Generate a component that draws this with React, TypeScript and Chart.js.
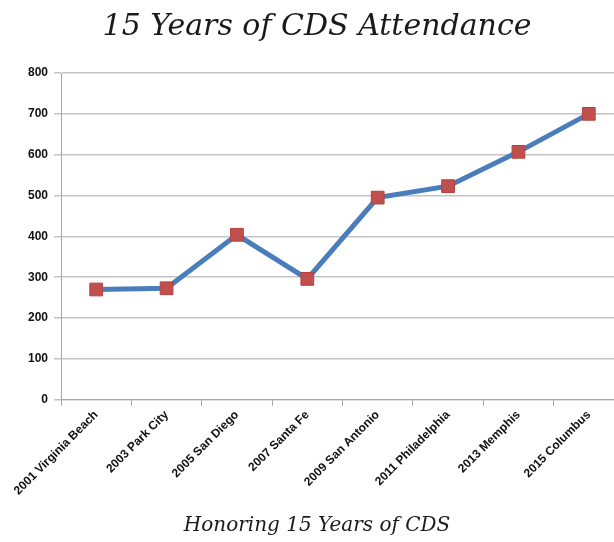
import React, { useEffect, useRef } from "react";
import { Chart, registerables } from "chart.js";

Chart.register(...registerables);

const categories = [
  "2001 Virginia Beach",
  "2003 Park City",
  "2005 San Diego",
  "2007 Santa Fe",
  "2009 San Antonio",
  "2011 Philadelphia",
  "2013 Memphis",
  "2015 Columbus",
];
const attendance = [270, 273, 404, 296, 495, 523, 607, 700];
const yTicks = [0, 100, 200, 300, 400, 500, 600, 700, 800];
const titleText = "15 Years of CDS Attendance";
const subtitleText = "Honoring 15 Years of CDS";

export default function App() {
  const ref = useRef<HTMLCanvasElement>(null);
  useEffect(() => {
    if (!ref.current) return;
    const chart = new Chart(ref.current, {
      type: "line",
      data: {
        labels: categories,
        datasets: [
          {
            data: attendance,
            borderColor: "#4A7EBB",
            borderWidth: 5,
            backgroundColor: "#C0504D",
            pointStyle: "rect",
            pointRadius: 9,
            pointBorderColor: "#B8403D",
            pointBorderWidth: 1,
            tension: 0,
          },
        ],
      },
      options: {
        animation: false,
        responsive: false,
        maintainAspectRatio: false,
        layout: { padding: { left: 0, right: 0, top: 0, bottom: 4 } },
        plugins: {
          legend: { display: false },
          tooltip: { enabled: false },
          title: {
            display: true,
            text: titleText,
            color: "#1a1a1a",
            font: { family: "DejaVu Serif", style: "italic", size: 30, weight: "normal" },
            padding: { top: 9, bottom: 28 },
          },
          subtitle: {
            display: true,
            text: subtitleText,
            position: "bottom",
            color: "#1a1a1a",
            font: { family: "DejaVu Serif", style: "italic", size: 20, weight: "normal" },
            padding: { top: 14, bottom: 0 },
          },
        },
        scales: {
          x: {
            offset: true,
            grid: {
              offset: true,
              drawOnChartArea: false,
              drawTicks: true,
              tickLength: 6,
              color: "#a6a6a6",
            },
            border: { color: "#a6a6a6", width: 1 },
            ticks: {
              maxRotation: 45,
              minRotation: 45,
              autoSkip: false,
              color: "#111",
              font: { family: "Liberation Sans", weight: "bold", size: 12 },
              padding: 2,
            },
          },
          y: {
            min: 0,
            max: 800,
            afterBuildTicks: (scale: any) => {
              scale.ticks = yTicks.map((v) => ({ value: v }));
            },
            afterFit: (scale: any) => {
              scale.width = 61;
            },
            grid: {
              color: "#c4c4c4",
              lineWidth: 1.5,
              tickLength: 7,
              drawTicks: true,
            },
            border: { color: "#a6a6a6", width: 1 },
            ticks: {
              color: "#111",
              font: { family: "Liberation Sans", weight: "bold", size: 12 },
              padding: 6,
            },
          },
        },
      },
    });
    return () => chart.destroy();
  }, []);
  return (
    <div
      style={{
        position: "absolute",
        left: 0,
        top: 0,
        width: 614,
        height: 542,
        overflow: "hidden",
        background: "#fff",
      }}
    >
      <canvas ref={ref} width={634} height={542} style={{ display: "block" }} />
    </div>
  );
}
